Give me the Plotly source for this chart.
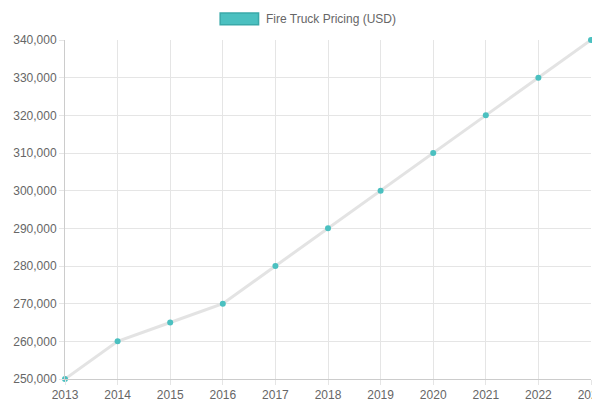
import plotly.graph_objects as go

years = ["2013","2014","2015","2016","2017","2018","2019","2020","2021","2022","2023"]
prices = [250000,260000,265000,270000,280000,290000,300000,310000,320000,330000,340000]
series_name = "Fire Truck Pricing (USD)"

fig = go.Figure()
fig.add_trace(go.Scatter(x=years, y=prices, mode="lines+markers", name=series_name,
    line=dict(color="rgba(225,225,225,0.95)", width=3),
    marker=dict(color="#4BC0C0", size=6), showlegend=False, cliponaxis=False))

fig.add_shape(type="rect", xref="paper", yref="paper", x0=0.295, x1=0.368, y0=1.045, y1=1.08,
    fillcolor="#4BC0C0", line=dict(color="#3aa9a9", width=1.5))
fig.add_annotation(text=series_name, xref="paper", yref="paper", x=0.378, y=1.062,
    xanchor="left", yanchor="middle", showarrow=False, font=dict(size=12, color="#666"))

fig.update_layout(width=600, height=400, margin=dict(l=57, r=17, t=32, b=29),
    plot_bgcolor="white", paper_bgcolor="white",
    font=dict(family="Liberation Sans, Arial", size=12, color="#666"))
fig.update_xaxes(type="category", range=[0, 10], showgrid=True, gridcolor="#e5e5e5",
    showline=True, linecolor="#ccc", ticks="outside", tickcolor="#e5e5e5", ticklen=5,
    automargin=False)
fig.update_yaxes(range=[250000, 340000], dtick=10000, tickformat=",", showgrid=True,
    gridcolor="#e5e5e5", showline=True, linecolor="#ccc", ticks="outside",
    tickcolor="#e5e5e5", ticklen=5, zeroline=False, automargin=False)
fig.write_html("out.html")
